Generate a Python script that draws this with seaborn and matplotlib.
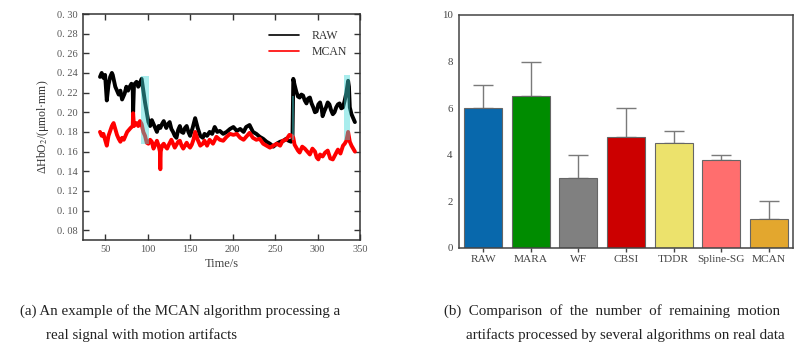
import numpy as np
import pandas as pd
import matplotlib
matplotlib.use("Agg")
import matplotlib.pyplot as plt
import matplotlib.patches as mpatches
import seaborn as sns

# ---------------- data ----------------
t_raw = [44, 46, 48, 50, 52, 54, 56, 58, 59, 62, 64, 66, 68, 70, 73, 75, 77, 79, 81, 82.5, 83, 84, 87,
         89, 91, 93, 95, 97, 99, 101, 103, 105, 107, 109, 111, 113, 115, 117, 119, 122, 124, 126, 128,
         130, 132, 134, 136, 138, 140, 142, 144, 146, 148, 150, 153, 156, 159, 162, 165, 167, 170, 173,
         176, 179, 182, 185, 189, 193, 197, 201, 205, 209, 213, 216, 220, 224, 228, 232, 236, 240, 244,
         248, 252, 256, 260, 263, 266, 269, 270.5, 271.5, 273, 275, 277, 279, 281, 283, 285, 287, 289,
         291, 293, 295, 297, 299, 301, 303, 305, 306, 308, 310, 312, 314, 316, 318, 320, 322, 324, 326,
         328, 330, 332, 334, 336, 337, 338, 340, 342, 344]
raw = [0.236, 0.240, 0.235, 0.238, 0.212, 0.228, 0.236, 0.240, 0.238, 0.226, 0.222, 0.218, 0.222, 0.213,
       0.219, 0.226, 0.222, 0.226, 0.229, 0.226, 0.200, 0.228, 0.231, 0.226, 0.230, 0.234, 0.222, 0.210,
       0.200, 0.190, 0.186, 0.192, 0.188, 0.184, 0.180, 0.186, 0.184, 0.188, 0.191, 0.184, 0.188, 0.190,
       0.183, 0.180, 0.176, 0.174, 0.182, 0.186, 0.180, 0.179, 0.184, 0.186, 0.180, 0.176, 0.184, 0.194,
       0.184, 0.176, 0.174, 0.178, 0.176, 0.180, 0.178, 0.185, 0.180, 0.181, 0.178, 0.180, 0.183, 0.185,
       0.181, 0.183, 0.180, 0.185, 0.187, 0.180, 0.178, 0.175, 0.173, 0.170, 0.168, 0.165, 0.168, 0.170,
       0.171, 0.173, 0.171, 0.170, 0.172, 0.234, 0.228, 0.221, 0.216, 0.215, 0.218, 0.217, 0.212, 0.209,
       0.214, 0.215, 0.209, 0.205, 0.200, 0.201, 0.208, 0.210, 0.203, 0.196, 0.201, 0.205, 0.210, 0.208,
       0.202, 0.198, 0.200, 0.205, 0.208, 0.209, 0.204, 0.205, 0.212, 0.220, 0.232, 0.226, 0.205, 0.198,
       0.194, 0.190]

t_mcan = [44, 46, 48, 50, 52, 54, 56, 58, 60, 62, 64, 66, 68, 70, 72, 74, 76, 78, 80, 82.5, 83, 84, 87,
          89, 91, 93, 95, 97, 99, 101, 103, 105, 107, 109, 111, 113, 114.5, 115, 115.5, 117, 119, 121,
          123, 125, 128, 130, 132, 134, 136, 138, 140, 142, 144, 146, 148, 150, 152, 154, 156, 159, 162,
          165, 167, 170, 173, 177, 181, 185, 189, 193, 197, 201, 205, 209, 213, 217, 220, 224, 228, 232,
          236, 240, 244, 248, 252, 256, 259, 263, 267, 270, 271.5, 273, 275, 277, 279, 282, 285, 288,
          291, 294, 297, 299, 301, 303, 306, 309, 312, 315, 318, 321, 324, 327, 330, 332, 334, 336, 338,
          340, 342, 344]
mcan = [0.180, 0.176, 0.178, 0.172, 0.166, 0.176, 0.181, 0.186, 0.189, 0.183, 0.177, 0.173, 0.170, 0.174,
        0.172, 0.176, 0.180, 0.182, 0.184, 0.186, 0.199, 0.186, 0.189, 0.186, 0.191, 0.188, 0.180, 0.176,
        0.169, 0.168, 0.172, 0.170, 0.163, 0.167, 0.171, 0.166, 0.160, 0.142, 0.160, 0.166, 0.168, 0.165,
        0.163, 0.167, 0.172, 0.168, 0.164, 0.167, 0.170, 0.171, 0.166, 0.163, 0.166, 0.169, 0.166, 0.164,
        0.167, 0.172, 0.180, 0.172, 0.166, 0.168, 0.171, 0.166, 0.172, 0.168, 0.175, 0.172, 0.171, 0.175,
        0.178, 0.177, 0.178, 0.174, 0.172, 0.176, 0.179, 0.174, 0.172, 0.173, 0.168, 0.166, 0.164, 0.166,
        0.168, 0.166, 0.171, 0.172, 0.177, 0.176, 0.174, 0.167, 0.164, 0.161, 0.159, 0.165, 0.163, 0.160,
        0.157, 0.163, 0.160, 0.154, 0.152, 0.157, 0.155, 0.159, 0.161, 0.153, 0.152, 0.157, 0.162, 0.158,
        0.166, 0.168, 0.171, 0.180, 0.170, 0.166, 0.163, 0.160]

# motion-artifact windows (t_start, t_end, low, high)
artifact_t0 = [92, 269.5, 331]
artifact_t1 = [102, 272.5, 338]
artifact_lo = [0.168, 0.172, 0.172]
artifact_hi = [0.237, 0.217, 0.238]

methods = ["RAW", "MARA", "WF", "CBSI", "TDDR", "Spline-SG", "MCAN"]
counts = [6.0, 6.5, 3.0, 4.75, 4.5, 3.75, 1.25]
upper = [7.0, 8.0, 4.0, 6.0, 5.0, 4.0, 2.0]
bar_colors = ["#0868ac", "#008c00", "#808080", "#cc0000", "#ece26c", "#ff6e6e", "#e3a72e"]

cap_a1 = "(a) An example of the MCAN algorithm processing a"
cap_a2 = "real signal with motion artifacts"
cap_b1 = "(b)  Comparison  of  the  number  of  remaining  motion"
cap_b2 = "artifacts processed by several algorithms on real data"

# ---------------- figure ----------------
sns.set_theme(style="white")
plt.rcParams["font.family"] = ["Liberation Serif", "DejaVu Serif"]
plt.rcParams["mathtext.fontset"] = "stix"

fig = plt.figure(figsize=(8.07, 3.54), dpi=100)
W, H = 807, 354

def ax_rect(l, t, r, b):
    return [l / W, 1 - b / H, (r - l) / W, (b - t) / H]

# ---- (a) line chart ----
ax1 = fig.add_axes(ax_rect(83, 14, 360, 239.5))
df_raw = pd.DataFrame({"t": t_raw, "v": raw})
df_mcan = pd.DataFrame({"t": t_mcan, "v": mcan})
sns.lineplot(data=df_raw, x="t", y="v", color="black", lw=2.8, ax=ax1, label="RAW")
sns.lineplot(data=df_mcan, x="t", y="v", color="#ff0000", lw=2.8, ax=ax1, label="MCAN")
for x0, x1, lo, hi in zip(artifact_t0, artifact_t1, artifact_lo, artifact_hi):
    ax1.add_patch(mpatches.Rectangle((x0, lo), x1 - x0, hi - lo, facecolor="#40d8d8",
                                     alpha=0.45, edgecolor="none", zorder=5))
ax1.set_xlim(24, 350)
ax1.set_ylim(0.0705, 0.30)
yt = [0.08, 0.10, 0.12, 0.14, 0.16, 0.18, 0.20, 0.22, 0.24, 0.26, 0.28, 0.30]
ax1.set_yticks(yt)
ax1.set_yticklabels([f"{v:.2f}".replace(".", ". ") for v in yt])
ax1.set_xticks([50, 100, 150, 200, 250, 300, 350])
ax1.tick_params(direction="in", length=4, width=1, colors="#333333", labelsize=7.5,
                top=True, right=True, bottom=True, left=True, labelcolor="#555555", pad=4)
for s in ax1.spines.values():
    s.set_color("#333333")
    s.set_linewidth(1.1)
ax1.set_xlabel("Time/s", fontsize=9, color="#444444", labelpad=3)
ax1.set_ylabel(r"ΔHbO$_2$/(μmol·mm)", fontsize=8.5, color="#333333", labelpad=4)
leg = ax1.legend(loc="upper right", bbox_to_anchor=(0.99, 0.975), frameon=False, fontsize=8.5,
                 handlelength=2.6, handletextpad=1.0, labelspacing=0.35)
for line in leg.get_lines():
    line.set_linewidth(1.2)
for txt in leg.get_texts():
    txt.set_color("#333333")

# ---- (b) bar chart ----
ax2 = fig.add_axes(ax_rect(459.5, 15, 792.5, 247.7))
df_bar = pd.DataFrame({"method": methods, "count": counts})
sns.barplot(data=df_bar, x="method", y="count", hue="method", palette=bar_colors, legend=False,
            errorbar=None, width=0.8, saturation=1, edgecolor="#666666", linewidth=0.8,
            ax=ax2, zorder=2)
xpos = np.arange(len(methods))
err_up = np.array(upper) - np.array(counts)
ax2.errorbar(xpos, counts, yerr=[np.zeros(len(counts)), err_up], fmt="none",
             ecolor="#7a7a7a", elinewidth=1.0, capsize=7, capthick=1.0, zorder=1)
ax2.set_xlim(-0.5, 6.5)
ax2.set_ylim(0, 10)
ax2.set_yticks([0, 2, 4, 6, 8, 10])
ax2.set_xlabel("")
ax2.set_ylabel("")
ax2.tick_params(axis="x", direction="out", length=3, width=1, colors="#444444", labelsize=8.2,
                bottom=True, pad=2)
ax2.tick_params(axis="y", length=0, colors="#444444", labelsize=7.8, pad=5)
for s in ax2.spines.values():
    s.set_color("#444444")
    s.set_linewidth(1.1)

# ---- captions ----
cap_kw = dict(fontsize=10.8, color="#222222", va="center")
fig.text(20 / W, 1 - 311 / H, cap_a1, ha="left", **cap_kw)
fig.text(46 / W, 1 - 335 / H, cap_a2, ha="left", **cap_kw)
fig.text(444 / W, 1 - 311 / H, cap_b1, ha="left", **cap_kw)
fig.text(785 / W, 1 - 335 / H, cap_b2, ha="right", **cap_kw)

fig.savefig("out.png", dpi=100, facecolor="white")
